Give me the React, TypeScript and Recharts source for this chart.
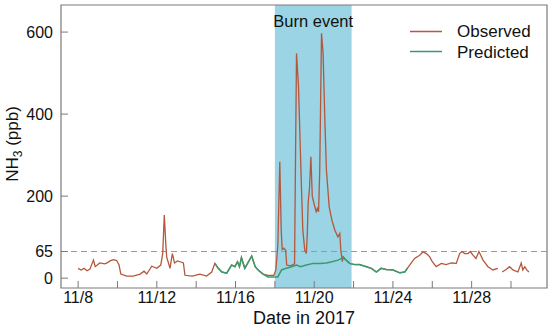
import React from "react";
import { LineChart, Line, XAxis, YAxis, ReferenceArea, ReferenceLine, Label } from "recharts";

// days counted from 11/8/2017
const observedDays = [
  0, 0.15, 0.3, 0.45, 0.6, 0.78, 0.87, 1.1, 1.35, 1.5, 1.62, 1.8, 1.96, 2.08, 2.17, 2.47, 2.8, 3.15, 3.35, 3.49,
  3.74, 4.0, 4.2, 4.3, 4.38, 4.46, 4.5, 4.67, 4.79, 4.9, 5.05, 5.18, 5.35, 5.43, 5.8, 6.19, 6.53, 6.79, 6.95, 7.12,
  7.3, 7.55, 7.8, 7.97, 8.1, 8.2, 8.3, 8.47, 8.6, 8.82, 9.0, 9.15, 9.4, 9.65, 9.95, 10.05, 10.15, 10.25, 10.32, 10.37,
  10.45, 10.55, 10.6, 10.8, 11.0, 11.05, 11.1, 11.2, 11.35, 11.42, 11.52, 11.6, 11.65, 11.69, 11.76, 11.83, 11.9, 11.95, 12.03, 12.1,
  12.16, 12.22, 12.28, 12.37, 12.45, 12.54, 12.62, 12.76, 12.9, 13.05, 13.2, 13.3, 13.35, 13.43, 13.47, 13.6, 13.8, 14.05, 14.3, 14.65,
  14.9, 15.16, 15.4, 15.67, 16.0, 16.35, 16.6, 16.85, 17.1, 17.36, 17.53, 17.7, 17.87, 18.0, 18.2, 18.46, 18.7, 18.97, 19.22, 19.39,
  19.5, 19.65, 19.81, 19.93, 20.07, 20.22, 20.37, 20.58, 20.83, 21.08, 21.33, 21.45, 21.55, 21.75, 21.93, 22.1, 22.35, 22.52, 22.6, 22.7,
  22.8, 22.91,
];
const observedValues = [
  24, 20, 24, 18, 22, 44, 28, 37, 35, 38, 42, 45, 43, 32, 10, 5, 5, 10, 17, 10,
  29, 24, 32, 60, 154, 80, 52, 24, 60, 37, 42, 40, 37, 7, 5, 10, 5, 15, 36, 24,
  15, 12, 32, 28, 40, 28, 50, 24, 35, 54, 28, 20, 10, 7, 7, 20, 80, 284, 120, 70,
  73, 68, 32, 30, 35, 300, 548, 467, 223, 117, 68, 60, 110, 182, 220, 296, 200, 190, 174, 162,
  170, 162, 263, 597, 548, 385, 263, 174, 141, 117, 101, 109, 68, 40, 52, 45, 36, 33, 33, 28,
  24, 15, 24, 21, 20, 13, 15, 32, 48, 56, 64, 60, 52, 40, 28, 36, 33, 37, 36, 60,
  65, 60, 60, 65, 56, 48, 65, 44, 28, 20, 24, null, 15, 21, 28, 20, 15, 37, 20, 28,
  20, 15,
];

const predictedDays = [
  6.95, 7.12, 7.3, 7.55, 7.8, 7.97, 8.1, 8.2, 8.3, 8.47, 8.6, 8.82, 9.0, 9.15, 9.4, 9.65, 9.95, 10.15, 10.34, 10.5,
  10.85, 11.1, 11.3, 11.6, 11.95, 12.3, 12.62, 12.9, 13.21, 13.47, 13.6, 13.8, 14.05, 14.3, 14.65, 14.9, 15.16, 15.4, 15.67, 16.0,
  16.35, 16.6, 16.75,
];
const predictedValues = [
  36, 24, 15, 12, 32, 28, 40, 28, 50, 24, 35, 54, 28, 20, 10, 3, 3, 3, 20, 23,
  28, 32, 28, 32, 36, 36, 37, 40, 44, 50, 45, 36, 33, 33, 28, 24, 15, 24, 21, 20,
  13, 15, 25,
];

const xTicks = [0, 2, 4, 6, 8, 10, 12, 14, 16, 18, 20, 22];
const xTickLabels: Record<number, string> = { 0: "11/8", 4: "11/12", 8: "11/16", 12: "11/20", 16: "11/24", 20: "11/28" };
const yTicks = [0, 65, 200, 400, 600];
const burnStart = 10;
const burnEnd = 13.9;
const threshold = 65;

const xDomain: [number, number] = [-0.87, 23.83];
const yDomain: [number, number] = [-24, 666];

const observedData = observedDays.map((day, i) => ({ day, value: observedValues[i] }));
const predictedData = predictedDays.map((day, i) => ({ day, value: predictedValues[i] }));

const FONT = "'Liberation Sans', Arial, sans-serif";
const FRAME = "#7a7a7a";
const OBS = "#b3573d";
const PRED = "#3a9a6c";

function XTick(props: any) {
  const { x, y, payload } = props;
  const text = xTickLabels[payload?.value];
  return (
    <g>
      <line x1={x} y1={y} x2={x} y2={y - 7} stroke={FRAME} strokeWidth={1} />
      {text && (
        <text x={x} y={y + 15} textAnchor="middle" fontSize={16} fill="#111" fontFamily={FONT}>
          {text}
        </text>
      )}
    </g>
  );
}

function YTick(props: any) {
  const { x, y, payload } = props;
  return (
    <g>
      <line x1={x} y1={y} x2={x + 7} y2={y} stroke={FRAME} strokeWidth={1} />
      <text x={x - 8} y={y + 5.5} textAnchor="end" fontSize={16} fill="#111" fontFamily={FONT}>
        {payload?.value}
      </text>
    </g>
  );
}

export default function App() {
  return (
    <div style={{ position: "absolute", left: 0, top: 0, width: 550, height: 328, background: "#fff" }}>
      <LineChart width={550} height={328} data={observedData} margin={{ top: 5, right: 3, bottom: 0, left: 0 }}>
        <XAxis
          type="number"
          dataKey="day"
          domain={xDomain}
          ticks={xTicks}
          allowDataOverflow
          height={40}
          axisLine={false}
          tickLine={false}
          tickSize={0}
          tickMargin={0}
          tick={XTick}
          interval={0}
        >
          <Label
            content={() => (
              <text x={304} y={324} textAnchor="middle" fontSize={18} fill="#111" fontFamily={FONT}>
                Date in 2017
              </text>
            )}
          />
        </XAxis>
        <YAxis
          type="number"
          domain={yDomain}
          ticks={yTicks}
          allowDataOverflow
          width={61}
          axisLine={false}
          tickLine={false}
          tickSize={0}
          tickMargin={0}
          tick={YTick}
          interval={0}
        >
          <Label
            content={() => (
              <text
                x={18}
                y={144}
                textAnchor="middle"
                fontSize={17}
                fill="#111"
                fontFamily={FONT}
                transform="rotate(-90, 18, 144)"
              >
                NH
                <tspan fontSize={12} dy={4}>3</tspan>
                <tspan dy={-4}> (ppb)</tspan>
              </text>
            )}
          />
        </YAxis>
        <ReferenceArea
          x1={burnStart}
          x2={burnEnd}
          fill="#9bd4e4"
          fillOpacity={1}
          stroke="none"
          label={{ value: "Burn event", position: "insideTop", offset: 10, fontSize: 16.5, fill: "#111", fontFamily: FONT }}
        />
        <ReferenceLine y={threshold} stroke="#9a9a9a" strokeWidth={1.2} strokeDasharray="6 4" />
        <Line
          data={observedData}
          type="linear"
          dataKey="value"
          stroke={OBS}
          strokeWidth={1.3}
          dot={false}
          activeDot={false}
          isAnimationActive={false}
        />
        <Line
          data={predictedData}
          type="linear"
          dataKey="value"
          stroke={PRED}
          strokeWidth={1.5}
          dot={false}
          activeDot={false}
          isAnimationActive={false}
        />
        <ReferenceArea
          x1={xDomain[0]}
          x2={xDomain[1]}
          y1={yDomain[0]}
          y2={yDomain[1]}
          fill="none"
          stroke={FRAME}
          strokeWidth={1.2}
        />
      </LineChart>
      <svg width={160} height={70} style={{ position: "absolute", left: 400, top: 10 }}>
        <line x1={10} y1={21.5} x2={42} y2={21.5} stroke={OBS} strokeWidth={1.5} />
        <text x={57} y={27} fontSize={17} fill="#111" fontFamily={FONT}>Observed</text>
        <line x1={10} y1={41.5} x2={42} y2={41.5} stroke={PRED} strokeWidth={1.5} />
        <text x={57} y={48} fontSize={17} fill="#111" fontFamily={FONT}>Predicted</text>
      </svg>
    </div>
  );
}
